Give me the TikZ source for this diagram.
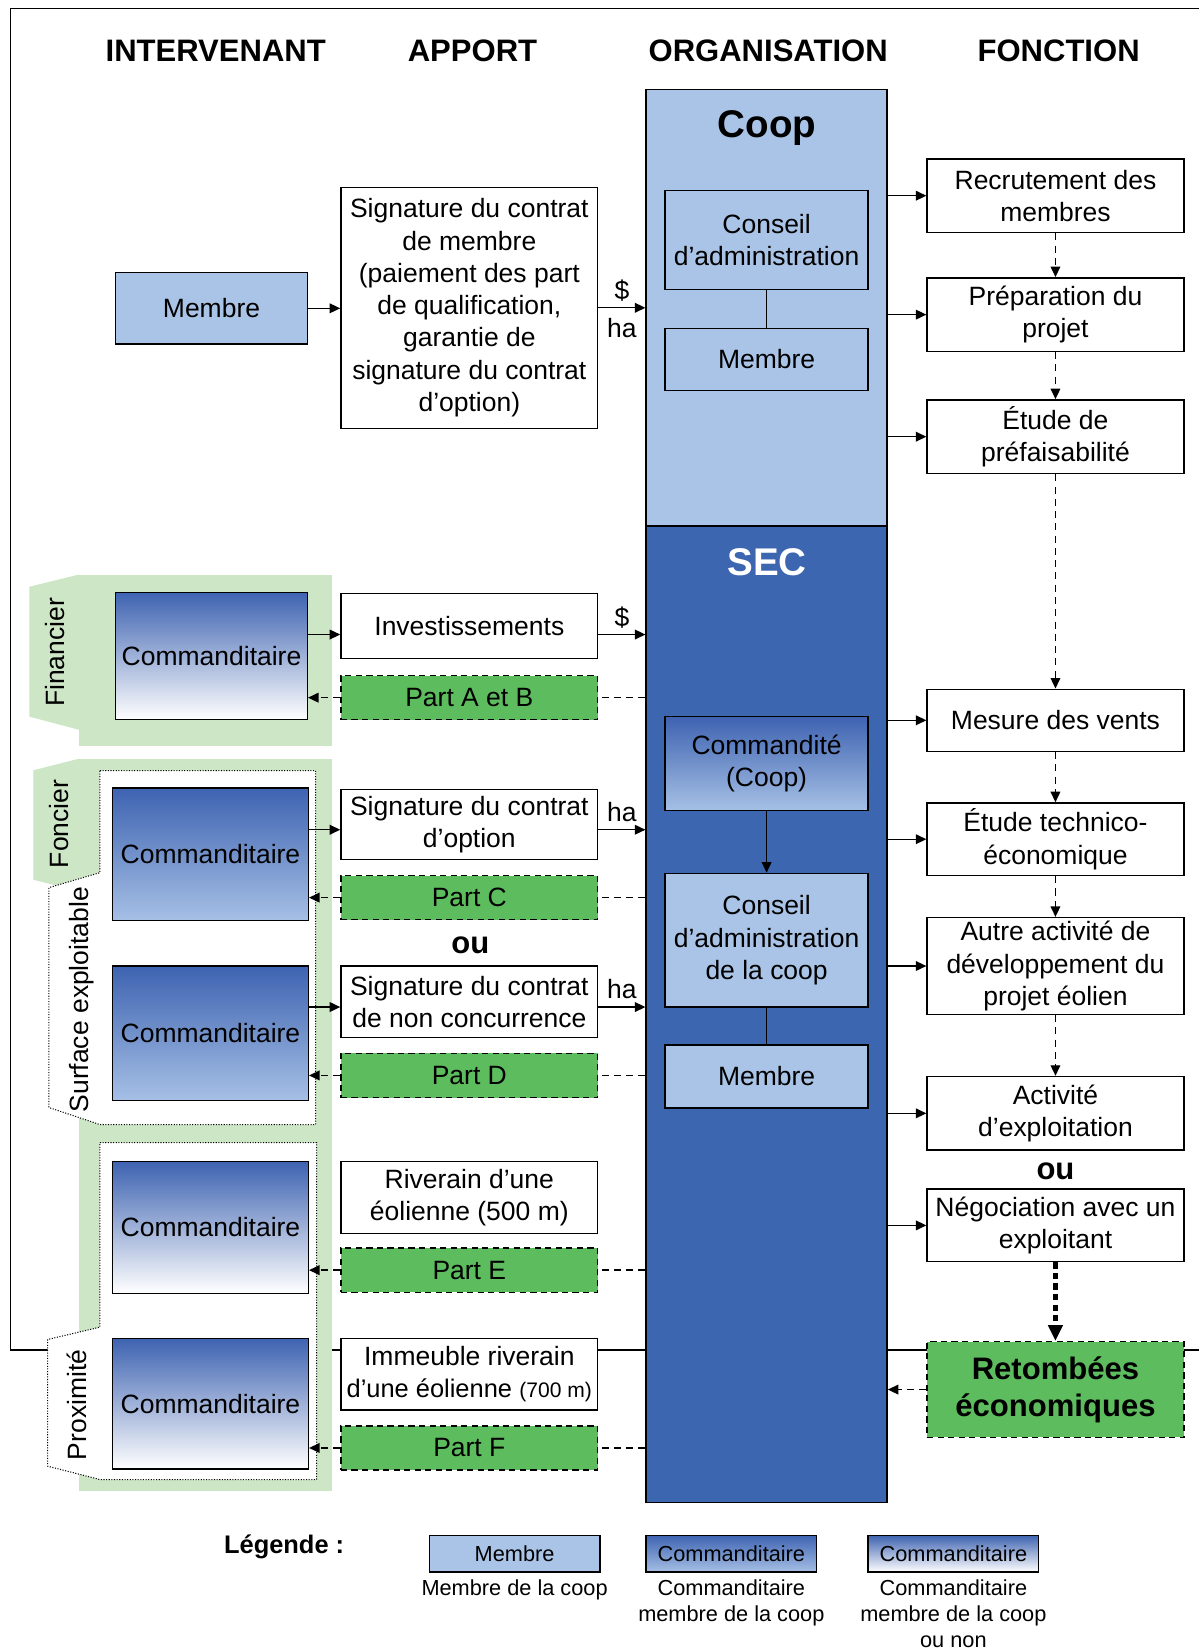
\documentclass[tikz,border=0pt]{standalone}
\usepackage{fontspec}
\setmainfont{Liberation Sans}
\usetikzlibrary{arrows.meta}

\definecolor{coopblue}{RGB}{169,196,231}
\definecolor{secblue}{RGB}{60,102,176}
\definecolor{darkgrad}{RGB}{62,99,177}
\definecolor{lightgrad}{RGB}{166,192,229}
\definecolor{groupgreen}{RGB}{205,230,197}
\definecolor{partgreen}{RGB}{93,188,93}

\tikzset{
  box/.style={draw, line width=0.8pt, inner sep=0pt, align=center, font=\fontsize{15.1}{18.4}\selectfont},
  dims/.style 2 args={minimum width=#1*0.6pt, minimum height=#2*0.6pt},
  whitebox/.style={box, fill=white},
  membox/.style={box, fill=coopblue},
  cmdbox/.style={box, top color=darkgrad, bottom color=lightgrad},
  cmdwhite/.style={box, top color=darkgrad, bottom color=white},
  partbox/.style={box, fill=partgreen, dash pattern=on 3.5pt off 2.5pt},
  legbox/.style={font=\fontsize{12.4}{14.7}\selectfont, dims={162}{35}},
  legtext/.style={font=\fontsize{12.4}{14.7}\selectfont, align=center, anchor=north, inner sep=2pt},
  heading/.style={font=\fontsize{17.7}{21}\selectfont\bfseries},
  flowlabel/.style={font=\fontsize{15.1}{18.4}\selectfont},
  grouplabel/.style={font=\fontsize{15.1}{18.4}\selectfont, rotate=90},
  grouptab/.style={fill=white, line width=0.6pt, dash pattern=on 0.6pt off 0.9pt},
  arr/.style={line width=0.8pt, -{Triangle[length=6pt,width=5.5pt]}},
  dashline/.style={line width=0.8pt, dash pattern=on 4pt off 3pt},
  dasharr/.style={arr, dash pattern=on 4pt off 3pt}
}

\begin{document}
\begin{tikzpicture}[x=0.6pt, y=-0.6pt]

\useasboundingbox (0,0) rectangle (1139,1568);

\draw[line width=1pt] (10,8) rectangle (1150,1283); % Outline of frame
%
\fill[groupgreen] (75,546) rectangle (315.4,709.3); % Financier group
\fill[groupgreen] (75,546) -- (27.8,557.6) -- (27.8,681) -- (75,693.5) -- cycle; % Financier tab
\fill[groupgreen] (75,721) rectangle (315.4,1417); % Foncier group
\fill[groupgreen] (75,721) -- (31.6,732) -- (31.6,836) -- (75,847) -- cycle; % Foncier tab
\draw[grouptab] (95,732.4) -- (299.9,732.4) -- (299.9,1068.7) -- (95,1068.7) -- (46.5,1052.5) -- (46.5,843.5) -- (95,829.3) -- cycle; % Surface exploitable
\draw[grouptab] (95,1085.8) -- (300.8,1085.8) -- (300.8,1406) -- (95,1406) -- (45.3,1393.3) -- (45.3,1272.9) -- (95,1261.2) -- cycle; % Proximite

\node[grouplabel] (lblFinancier) at (52,620) {Financier};
\node[grouplabel] (lblFoncier) at (56,783) {Foncier};
\node[grouplabel] (lblSurface) at (78,950) {Surface exploitable};
\node[grouplabel] (lblProximite) at (73,1335) {Proximité};

% Column titles
\node[heading] (hInterv) at (205,48) {INTERVENANT};
\node[heading] (hApport) at (449,48) {APPORT};
\node[heading] (hOrga) at (730,48) {ORGANISATION};
\node[heading] (hFonction) at (1006,48) {FONCTION};

% Organisation
\node[draw, line width=0.8pt, fill=coopblue, inner sep=0pt, dims={229}{415}] (coop) at (728.5,292.5) {};
\node[draw, line width=0.8pt, fill=secblue, inner sep=0pt, dims={229}{928}] (sec) at (728.5,964) {};
\node[font=\fontsize{22}{26}\selectfont\bfseries] (coopTitle) at (729,122) {Coop};
\node[font=\fontsize{22}{26}\selectfont\bfseries, text=white] (secTitle) at (729,534) {SEC};

\node[membox, dims={193}{94}] (caCoop) at (728.5,228) {Conseil\\d’administration};
\node[membox, dims={193}{59}] (memCoop) at (728.5,341.5) {Membre};
\draw[line width=0.8pt] (caCoop) -- (memCoop);

\node[cmdbox, dims={193}{89}] (commandite) at (728.5,725.5) {Commandité\\(Coop)};
\node[membox, dims={193}{127}] (caSec) at (728.5,893.5) {Conseil\\d’administration\\de la coop};
\node[membox, dims={193}{60}] (memSec) at (728.5,1023) {Membre};
\draw[arr] (commandite) -- (caSec);
\draw[line width=0.8pt] (caSec) -- (memSec);

% Intervenants
\node[membox, dims={182}{68}] (membre) at (201,293) {Membre};
\node[cmdwhite, dims={182}{121}] (cmdFin) at (201,623.5) {Commanditaire};
\node[cmdbox, dims={186}{126}] (cmdOpt) at (200,812) {Commanditaire};
\node[cmdbox, dims={186}{128}] (cmdNC) at (200,982) {Commanditaire};
\node[cmdwhite, dims={186}{125}] (cmdRiv) at (200,1166.5) {Commanditaire};
\node[cmdwhite, dims={186}{124}] (cmdImm) at (200,1334) {Commanditaire};

% Apports
\node[whitebox, dims={244}{229}] (apMembre) at (446,292.5) {Signature du contrat\\de membre\\(paiement des part\\de qualification,\\garantie de\\signature du contrat\\d’option)};
\node[whitebox, dims={244}{62}] (apInv) at (446,595) {Investissements};
\node[partbox, dims={244}{42}] (partAB) at (446,663) {Part A et B};
\node[whitebox, dims={244}{67}] (apOpt) at (446,783.5) {Signature du contrat\\d’option};
\node[partbox, dims={244}{42}] (partC) at (446,853) {Part C};
\node[heading] (ouApport) at (447,898) {ou};
\node[whitebox, dims={244}{68}] (apNC) at (446,952) {Signature du contrat\\de non concurrence};
\node[partbox, dims={244}{42}] (partD) at (446,1022) {Part D};
\node[whitebox, dims={244}{68}] (apRiv) at (446,1138) {Riverain d’une\\éolienne (500 m)};
\node[partbox, dims={244}{42}] (partE) at (446,1207) {Part E};
\node[whitebox, dims={244}{68}] (apImm) at (446,1306) {Immeuble riverain\\{\fontsize{14.5}{18.4}\selectfont d’une éolienne} {\fontsize{12}{18.4}\selectfont(700 m)}};
\node[partbox, dims={244}{42}] (partF) at (446,1376) {Part F};

\coordinate (invIn) at ([yshift=-4.8pt]apInv.west);
\coordinate (invOut) at ([yshift=-4.8pt]apInv.east);
\coordinate (optIn) at ([yshift=-3pt]apOpt.west);
\coordinate (optOut) at ([yshift=-3pt]apOpt.east);
\coordinate (ncIn) at ([yshift=-3pt]apNC.west);
\coordinate (ncOut) at ([yshift=-3pt]apNC.east);

\draw[arr] (membre.east) -- (membre.east -| apMembre.west);
\draw[arr] (apMembre.east) -- node[flowlabel, above=0pt]{\$} node[flowlabel, below=2pt]{ha} (apMembre.east -| coop.west);
\draw[arr] (cmdFin.east |- invIn) -- (invIn);
\draw[arr] (invOut) -- node[flowlabel, above=0pt]{\$} (invOut -| sec.west);
\draw[arr] (cmdOpt.east |- optIn) -- (optIn);
\draw[arr] (optOut) -- node[flowlabel, above=1pt]{ha} (optOut -| sec.west);
\draw[arr] (cmdNC.east |- ncIn) -- (ncIn);
\draw[arr] (ncOut) -- node[flowlabel, above=1pt]{ha} (ncOut -| sec.west);

\draw[dashline] (partAB.east -| sec.west) -- (partAB.east); % Part A et B
\draw[dasharr] (partAB.west) -- (partAB.west -| cmdFin.east);
\draw[dashline] (partC.east -| sec.west) -- (partC.east); % Part C
\draw[dasharr] (partC.west) -- (partC.west -| cmdOpt.east);
\draw[dashline] (partD.east -| sec.west) -- (partD.east); % Part D
\draw[dasharr] (partD.west) -- (partD.west -| cmdNC.east);
\draw[dashline] (partE.east -| sec.west) -- (partE.east); % Part E
\draw[dasharr] (partE.west) -- (partE.west -| cmdRiv.east);
\draw[dashline] (partF.east -| sec.west) -- (partF.east); % Part F
\draw[dasharr] (partF.west) -- (partF.west -| cmdImm.east);

% Fonctions
\node[whitebox, dims={244}{70}] (recrut) at (1003,186) {Recrutement des\\membres};
\node[whitebox, dims={244}{70}] (prep) at (1003,299) {Préparation du\\projet};
\node[whitebox, dims={244}{70}] (prefais) at (1003,415) {Étude de\\préfaisabilité};
\node[whitebox, dims={244}{59}] (vents) at (1003,684.5) {Mesure des vents};
\node[whitebox, dims={244}{69}] (technico) at (1003,797.5) {Étude technico-\\économique};
\node[whitebox, dims={244}{92}] (autre) at (1003,918) {Autre activité de\\développement du\\projet éolien};
\node[whitebox, dims={244}{70}] (exploit) at (1003,1058) {Activité\\d’exploitation};
\node[heading] (ouFonction) at (1003,1113) {ou};
\node[whitebox, dims={244}{69}] (nego) at (1003,1164.5) {Négociation avec un\\exploitant};
\node[partbox, dims={244}{91}, font=\fontsize{17.7}{21}\selectfont\bfseries] (retombees) at (1003,1320.5) {Retombées\\économiques};

\draw[arr] (recrut.west -| coop.east) -- (recrut.west);
\draw[arr] (prep.west -| coop.east) -- (prep.west);
\draw[arr] (prefais.west -| coop.east) -- (prefais.west);
\draw[arr] (vents.west -| sec.east) -- (vents.west);
\draw[arr] (technico.west -| sec.east) -- (technico.west);
\draw[arr] (autre.west -| sec.east) -- (autre.west);
\draw[arr] (exploit.west -| sec.east) -- (exploit.west);
\draw[arr] (nego.west -| sec.east) -- (nego.west);

\draw[dasharr] (recrut) -- (prep);
\draw[dasharr] (prep) -- (prefais);
\draw[dasharr] (prefais) -- (vents);
\draw[dasharr] (vents) -- (technico);
\draw[dasharr] (technico) -- (autre);
\draw[dasharr] (autre) -- (exploit);
\draw[line width=2.4pt, dash pattern=on 3.6pt off 2.4pt, -{Triangle[length=9pt,width=8pt]}] (nego) -- (retombees); % Toward retombees
\draw[dasharr] (retombees.west) -- (retombees.west -| sec.east);

% Legend
\node[font=\fontsize{14.5}{17}\selectfont\bfseries] (legende) at (270,1470) {Légende :};
\node[membox, legbox] (legMembre) at (489,1476.5) {Membre};
\node[cmdbox, legbox] (legCmd) at (695,1476.5) {Commanditaire};
\node[cmdwhite, legbox] (legCmdNon) at (906,1476.5) {Commanditaire};
\node[legtext] (capMembre) at ([yshift=-2pt]legMembre.south) {Membre de la coop};
\node[legtext] (capCmd) at ([yshift=-2pt]legCmd.south) {Commanditaire\\membre de la coop};
\node[legtext] (capCmdNon) at ([yshift=-2pt]legCmdNon.south) {Commanditaire\\membre de la coop\\ou non};

\end{tikzpicture}
\end{document}
